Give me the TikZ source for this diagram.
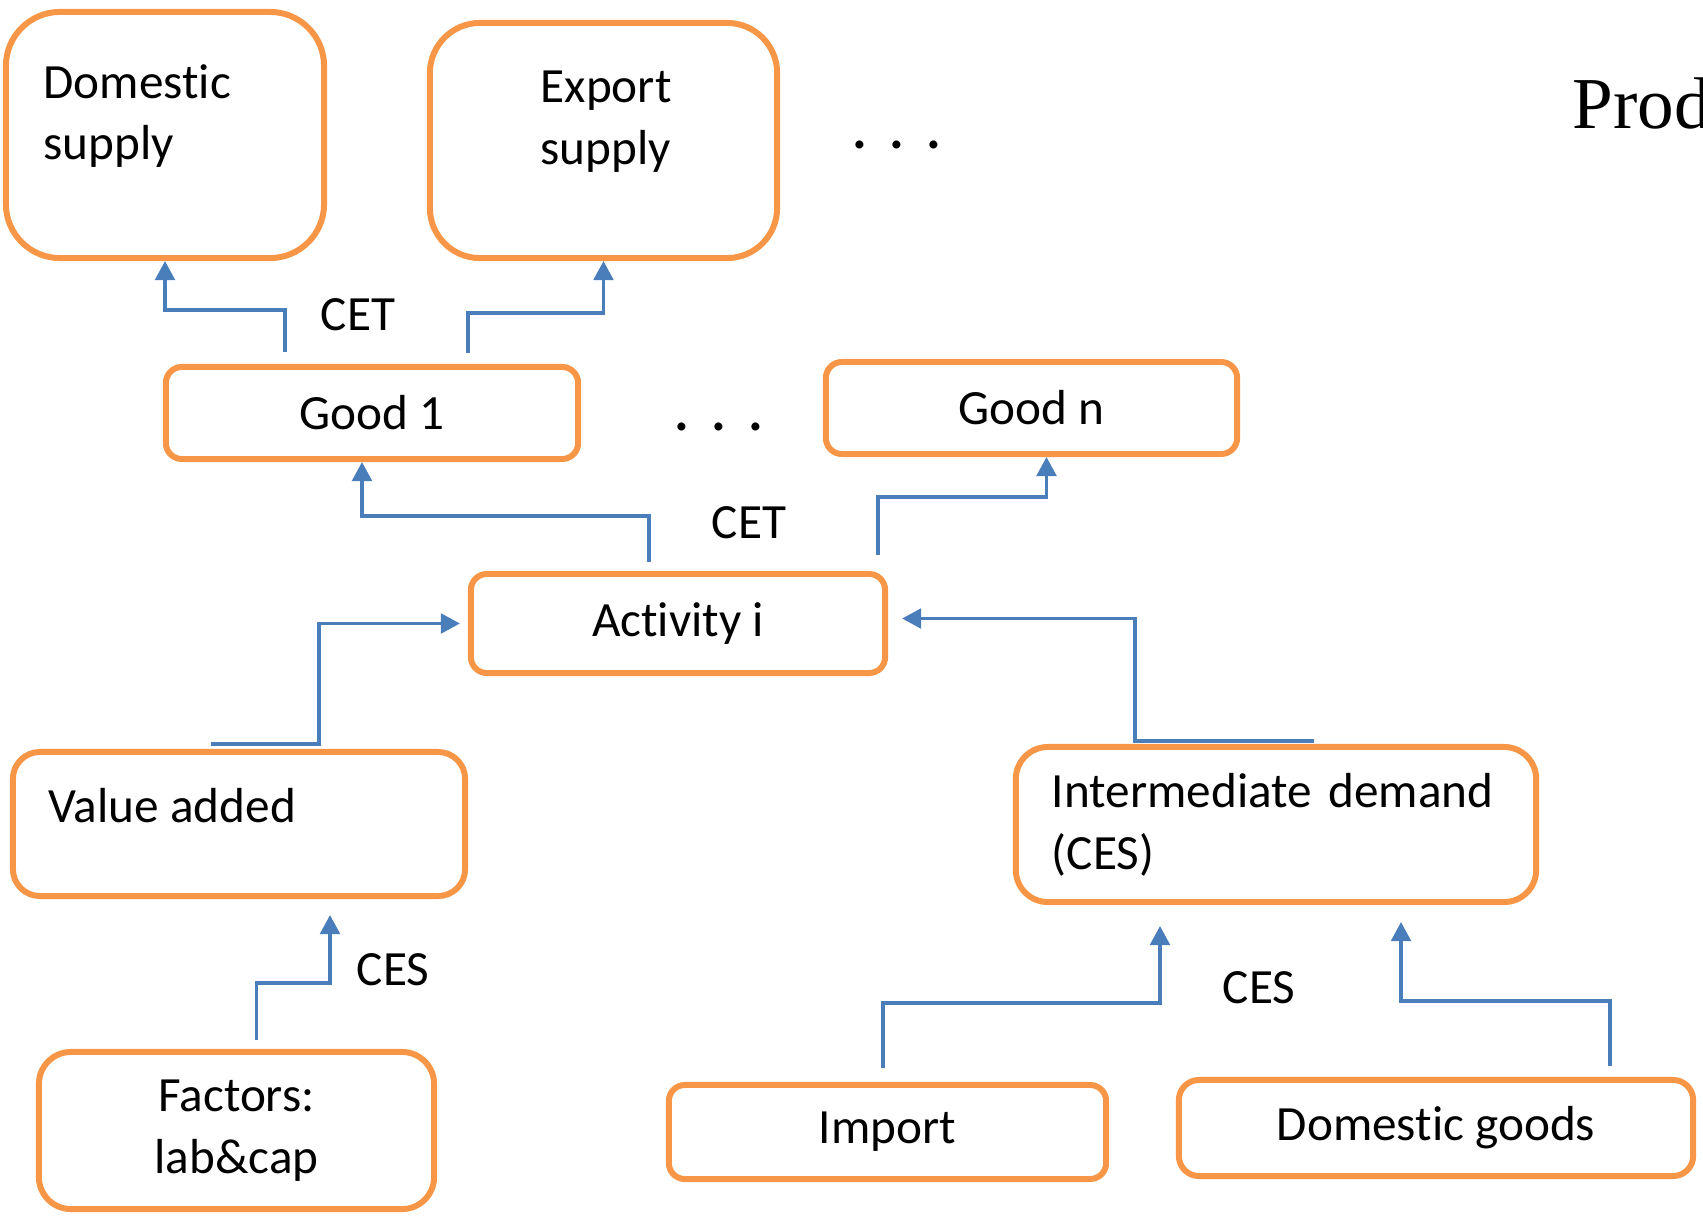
\documentclass[tikz,border=0pt]{standalone}
\usepackage{fontspec}
\setmainfont{Carlito}[Ligatures=NoCommon]
\newfontfamily\prodfont{Liberation Serif}
\usetikzlibrary{positioning,calc,arrows.meta}
\definecolor{boxorange}{HTML}{F79646}
\definecolor{linkblue}{HTML}{4A7EBB}

\begin{document}
\begin{tikzpicture}[x=0.01cm, y=-0.01cm,
    box/.style={draw=boxorange, line width=1.7pt, rounded corners=0.16cm, align=center, inner sep=0pt, font=\fontsize{14}{17.6}\selectfont},
    lbl/.style={inner sep=0pt, font=\fontsize{14}{17.6}\selectfont},
    arrow/.style={-{Triangle[length=5.4pt,width=5.6pt]}, draw=linkblue, line width=0.9pt}
]
\useasboundingbox (0,0) rectangle (1703,1218);

% Supply boxes
\node[box, minimum width=3.18cm, minimum height=2.46cm, rounded corners=0.54cm] (dom) at (165,135) {};
\node[lbl, align=left, anchor=west] (domtxt) at (43,116) {Domestic\\supply};
\node[box, minimum width=3.47cm, minimum height=2.35cm, rounded corners=0.5cm] (exp) at (603.5,140.5) {};
\node[lbl, align=left, anchor=west] (exptxt) at (540,122) {Export\\supply};
\node[lbl, font=\fontsize{19}{24}\selectfont, anchor=base] (dotsa) at (897,148) {. . .};
\node[anchor=base west, inner sep=0pt, font=\prodfont\fontsize{20.8}{25}\selectfont] (prod) at (1572,128) {Prod};

% Goods and activity
\node[box, minimum width=4.12cm, minimum height=0.92cm] (g1) at (372,413) {Good 1};
\node[lbl, font=\fontsize{19}{24}\selectfont, anchor=base] (dotsb) at (719,430) {. . .};
\node[box, minimum width=4.11cm, minimum height=0.92cm] (gn) at (1031.5,408) {Good n};
\node[box, minimum width=4.14cm, minimum height=0.99cm] (act) at (678,623.5) {Activity i};

% Inputs
\node[box, minimum width=4.52cm, minimum height=1.44cm, rounded corners=0.27cm] (va) at (239,824) {};
\node[lbl, anchor=west] (vatxt) at (48,806) {Value added};
\node[box, minimum width=5.2cm, minimum height=1.55cm, rounded corners=0.32cm, align=left, text width=4.48cm, inner xsep=0.36cm] (int) at (1276,824.5) {Intermediate demand\\(CES)};
\node[box, minimum width=3.95cm, minimum height=1.57cm, rounded corners=0.32cm] (fac) at (236.5,1130.5) {Factors:\\lab\&cap};
\node[box, minimum width=4.37cm, minimum height=0.94cm] (imp) at (887.5,1132) {Import};
\node[box, minimum width=5.14cm, minimum height=0.96cm, rounded corners=0.2cm] (dgs) at (1436,1128) {Domestic goods};

% Function labels
\node[lbl] (cetup) at (358,315) {CET};
\node[lbl] (cetmid) at (749,523) {CET};
\node[lbl] (cesva) at (393,970) {CES};
\node[lbl] (cesint) at (1259,988) {CES};

% Connectors
\draw[arrow] ([shift={(-87,-12)}]g1.north) -- ++(0,-42) -| (dom.south);
\draw[arrow] ([shift={(96,-11)}]g1.north) -- ++(0,-40) -| (exp.south);
\draw[arrow] ([shift={(-29,-9)}]act.north) -- ++(0,-46) -| ([shift={(-10,0)}]g1.south);
\draw[arrow] ([shift={(200,-16)}]act.north) -- ++(0,-58) -| ([shift={(15,0)}]gn.south);
\draw[arrow] ([shift={(-28,-5)}]va.north) -- ++(108,0) |- ([shift={(-8,0)}]act.west);
\draw[arrow] ([shift={(38,-3)}]int.north) -- ++(-179,0) |- ([shift={(14,-5)}]act.east);
\draw[arrow] ([shift={(20,-9)}]fac.north) -- ++(0,-57) -| ([shift={(91,16)}]va.south);
\draw[arrow] ([shift={(-4.5,-14)}]imp.north) -- ++(0,-65) -| ([shift={(-116,21)}]int.south);
\draw[arrow] ([shift={(174,-11)}]dgs.north) -- ++(0,-65) -| ([shift={(125,17)}]int.south);

\end{tikzpicture}
\end{document}
